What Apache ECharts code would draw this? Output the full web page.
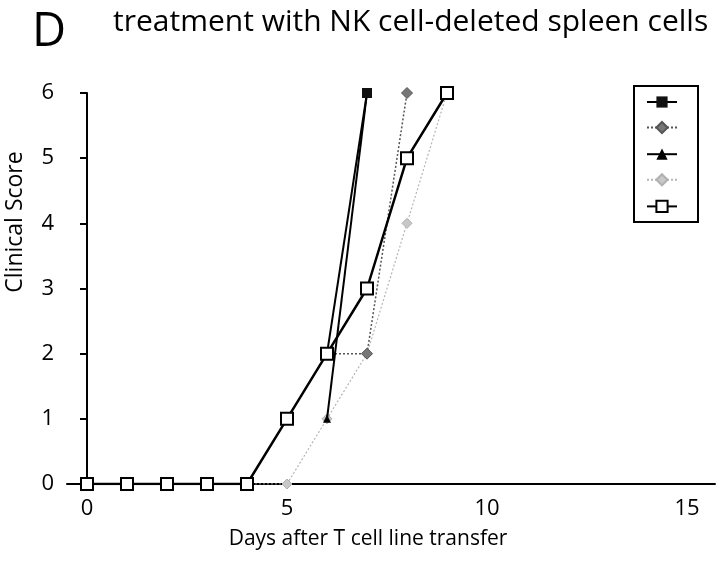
<!DOCTYPE html>
<html><head><meta charset="utf-8">
<script src="https://cdn.jsdelivr.net/npm/echarts@6/dist/echarts.min.js"></script>
<style>html,body{margin:0;padding:0;background:#fff}#c{width:720px;height:563px}</style>
</head><body><div id="c"></div>
<script>
// Data
const xTickLabels = [0, 5, 10, 15];
const yTickLabels = [0, 1, 2, 3, 4, 5, 6];

const filledSquareDays = [6, 7];
const filledSquareScores = [2, 6];

const darkDiamondDays = [6, 7, 8];
const darkDiamondScores = [2, 2, 6];

const triangleDays = [6, 7];
const triangleScores = [1, 6];

const lightDiamondDays = [0, 1, 2, 3, 4, 5, 6, 7, 8, 9];
const lightDiamondScores = [0, 0, 0, 0, 0, 0, 1, 2, 4, 6];

const openSquareDays = [0, 1, 2, 3, 4, 5, 6, 7, 8, 9];
const openSquareScores = [0, 0, 0, 0, 0, 1, 2, 3, 5, 6];

const legendNames = ['s1', 's2', 's3', 's4', 's5'];

function pairs(xs, ys) { return xs.map((x, i) => [x, ys[i]]); }

const FONT = 'Open Sans';
const chart = echarts.init(document.getElementById('c'), null, {renderer: 'canvas'});
chart.setOption({
  animation: false,
  backgroundColor: '#fff',
  title: [
    {text: 'D', left: 27, top: 4, textStyle: {fontFamily: FONT, fontSize: 47, fontWeight: 'normal', color: '#000'}},
    {text: 'treatment with NK cell-deleted spleen cells', left: 108, top: 2, textStyle: {fontFamily: FONT, fontSize: 30, fontWeight: 'normal', color: '#000'}}
  ],
  graphic: [
    {type: 'text', x: 4, y: 222, rotation: Math.PI / 2,
     style: {text: 'Clinical Score', fontFamily: FONT, fontSize: 23, fill: '#000', align: 'center', verticalAlign: 'top'}},
    {type: 'text', x: 368, y: 529,
     style: {text: 'Days after T cell line transfer', fontFamily: FONT, fontSize: 21, fill: '#000', align: 'center', verticalAlign: 'top'}}
  ],
  grid: {left: 67, right: 5, top: 93, bottom: 79, containLabel: false},
  legend: {
    right: 22, top: 86, orient: 'vertical',
    padding: [9, 20, 9, 12], itemGap: 13, itemWidth: 30, itemHeight: 14,
    borderColor: '#000', borderWidth: 2,
    formatter: () => '',
    textStyle: {fontSize: 1},
    data: legendNames
  },
  xAxis: {
    type: 'value', min: -0.5, max: 15.7,
    splitLine: {show: false},
    axisTick: {show: false},
    axisLine: {onZero: false, lineStyle: {color: '#000', width: 2}},
    axisLabel: {customValues: xTickLabels, margin: 14, fontFamily: FONT, fontSize: 22, color: '#000'}
  },
  yAxis: {
    type: 'value', min: 0, max: 6, interval: 1,
    splitLine: {show: false},
    axisTick: {show: true, length: 7, lineStyle: {color: '#000', width: 2}},
    axisLine: {show: true, lineStyle: {color: '#000', width: 2}},
    axisLabel: {margin: 13, fontFamily: FONT, fontSize: 22, color: '#000', formatter: v => yTickLabels.includes(v) ? String(v) : ''}
  },
  series: [
    {name: legendNames[3], type: 'line', z: 2, data: pairs(lightDiamondDays, lightDiamondScores),
     symbol: 'diamond', symbolSize: 10, showAllSymbol: true,
     lineStyle: {color: '#b5b5b5', width: 1.2, type: [2, 2]},
     itemStyle: {color: '#c8c8c8', borderColor: '#b0b0b0', borderWidth: 1}},
    {name: legendNames[1], type: 'line', z: 3, data: pairs(darkDiamondDays, darkDiamondScores),
     symbol: 'diamond', symbolSize: 11,
     lineStyle: {color: '#555', width: 1.5, type: [2, 2]},
     itemStyle: {color: '#777', borderColor: '#555', borderWidth: 1}},
    {name: legendNames[2], type: 'line', z: 4, data: pairs(triangleDays, triangleScores),
     symbol: 'triangle', symbolSize: 8,
     lineStyle: {color: '#000', width: 2},
     itemStyle: {color: '#000'}},
    {name: legendNames[0], type: 'line', z: 5, data: pairs(filledSquareDays, filledSquareScores),
     symbol: 'rect', symbolSize: 10,
     lineStyle: {color: '#000', width: 2},
     itemStyle: {color: '#111'}},
    {name: legendNames[4], type: 'line', z: 6, data: pairs(openSquareDays, openSquareScores),
     symbol: 'rect', symbolSize: 12, showAllSymbol: true,
     lineStyle: {color: '#000', width: 2.5},
     itemStyle: {color: '#fff', borderColor: '#000', borderWidth: 2}}
  ]
});
</script></body></html>
